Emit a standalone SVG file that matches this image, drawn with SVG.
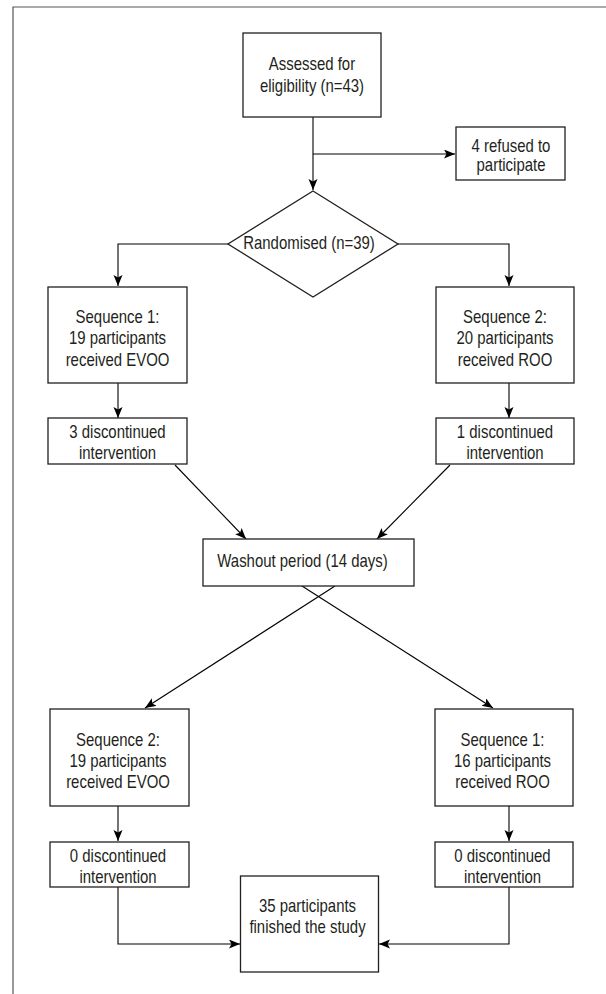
<svg xmlns="http://www.w3.org/2000/svg" width="606" height="994" viewBox="0 0 606 994">
<style>
.box{fill:#fff;stroke:#231f20;stroke-width:1.3}
.t{font-family:"Liberation Sans",Arial,sans-serif;font-size:18px;fill:#231f20;text-anchor:middle}
.c{fill:none;stroke:#000;stroke-width:1.1;marker-end:url(#ah)}
.frame{fill:none;stroke:#555;stroke-width:1.2}
</style>
<defs>
<marker id="ah" markerUnits="userSpaceOnUse" markerWidth="12" markerHeight="10" refX="11" refY="4.5" orient="auto">
<path d="M0,0 L11,4.5 L0,9 L2.5,4.5 z" fill="#000"/>
</marker>
</defs>
<rect width="606" height="994" fill="#fff"/>
<path class="frame" d="M13,994 V7 H606"/>
<g id="connectors">
<path class="c" d="M313,117 V190"/>
<path class="c" d="M313,154 H455"/>
<path class="c" d="M228,244 H118 V286"/>
<path class="c" d="M398,244 H509 V286"/>
<path class="c" d="M118,383 V418"/>
<path class="c" d="M509,383 V418"/>
<path class="c" d="M175,465 L246,539"/>
<path class="c" d="M450,465 L377,539"/>
<path class="c" d="M302,586 L493,708"/>
<path class="c" d="M335,586 L145,708"/>
<path class="c" d="M118,806 V841"/>
<path class="c" d="M509,806 V841"/>
<path class="c" d="M118,887 V944 H240"/>
<path class="c" d="M509,887 V944 H379"/>
</g>
<g id="assessed">
<rect class="box" x="243" y="33" width="138" height="84"/>
<text class="t" transform="translate(312,70) scale(0.83,1)">Assessed for</text>
<text class="t" transform="translate(312,92) scale(0.83,1)">eligibility (n=43)</text>
</g>
<g id="refused">
<rect class="box" x="456" y="127" width="109" height="53"/>
<text class="t" transform="translate(511,151.5) scale(0.83,1)">4 refused to</text>
<text class="t" transform="translate(511,170.5) scale(0.83,1)">participate</text>
</g>
<g id="randomised">
<polygon class="box" points="313,191 398,244 313,297 228,244"/>
<text class="t" transform="translate(309,248.5) scale(0.83,1)">Randomised (n=39)</text>
</g>
<g id="seq1-evoo">
<rect class="box" x="48" y="287" width="139" height="96"/>
<text class="t" transform="translate(117.5,323) scale(0.83,1)">Sequence 1:</text>
<text class="t" transform="translate(117.5,344) scale(0.83,1)">19 participants</text>
<text class="t" transform="translate(117.5,366) scale(0.83,1)">received EVOO</text>
</g>
<g id="seq2-roo">
<rect class="box" x="436" y="287" width="138" height="96"/>
<text class="t" transform="translate(505,323) scale(0.83,1)">Sequence 2:</text>
<text class="t" transform="translate(505,344) scale(0.83,1)">20 participants</text>
<text class="t" transform="translate(505,366) scale(0.83,1)">received ROO</text>
</g>
<g id="disc3">
<rect class="box" x="48" y="418" width="139" height="46"/>
<text class="t" transform="translate(117.5,438) scale(0.83,1)">3 discontinued</text>
<text class="t" transform="translate(117.5,459) scale(0.83,1)">intervention</text>
</g>
<g id="disc1">
<rect class="box" x="436" y="418" width="138" height="46"/>
<text class="t" transform="translate(505,438) scale(0.83,1)">1 discontinued</text>
<text class="t" transform="translate(505,459) scale(0.83,1)">intervention</text>
</g>
<g id="washout">
<rect class="box" x="203" y="539" width="211" height="47"/>
<text class="t" transform="translate(302.5,567) scale(0.83,1)">Washout period (14 days)</text>
</g>
<g id="seq2-evoo">
<rect class="box" x="50" y="709" width="139" height="97"/>
<text class="t" transform="translate(118,746) scale(0.83,1)">Sequence 2:</text>
<text class="t" transform="translate(118,767) scale(0.83,1)">19 participants</text>
<text class="t" transform="translate(118,788) scale(0.83,1)">received EVOO</text>
</g>
<g id="seq1-roo">
<rect class="box" x="435" y="709" width="138" height="97"/>
<text class="t" transform="translate(502.5,746) scale(0.83,1)">Sequence 1:</text>
<text class="t" transform="translate(502.5,767) scale(0.83,1)">16 participants</text>
<text class="t" transform="translate(502.5,788) scale(0.83,1)">received ROO</text>
</g>
<g id="disc0a">
<rect class="box" x="50" y="842" width="139" height="45"/>
<text class="t" transform="translate(118,862) scale(0.83,1)">0 discontinued</text>
<text class="t" transform="translate(118,883) scale(0.83,1)">intervention</text>
</g>
<g id="disc0b">
<rect class="box" x="435" y="842" width="138" height="45"/>
<text class="t" transform="translate(502.5,862) scale(0.83,1)">0 discontinued</text>
<text class="t" transform="translate(502.5,883) scale(0.83,1)">intervention</text>
</g>
<g id="finished">
<rect class="box" x="240.5" y="876" width="138" height="96"/>
<text class="t" transform="translate(307.5,912) scale(0.83,1)">35 participants</text>
<text class="t" transform="translate(307.5,933) scale(0.83,1)">finished the study</text>
</g>
</svg>
